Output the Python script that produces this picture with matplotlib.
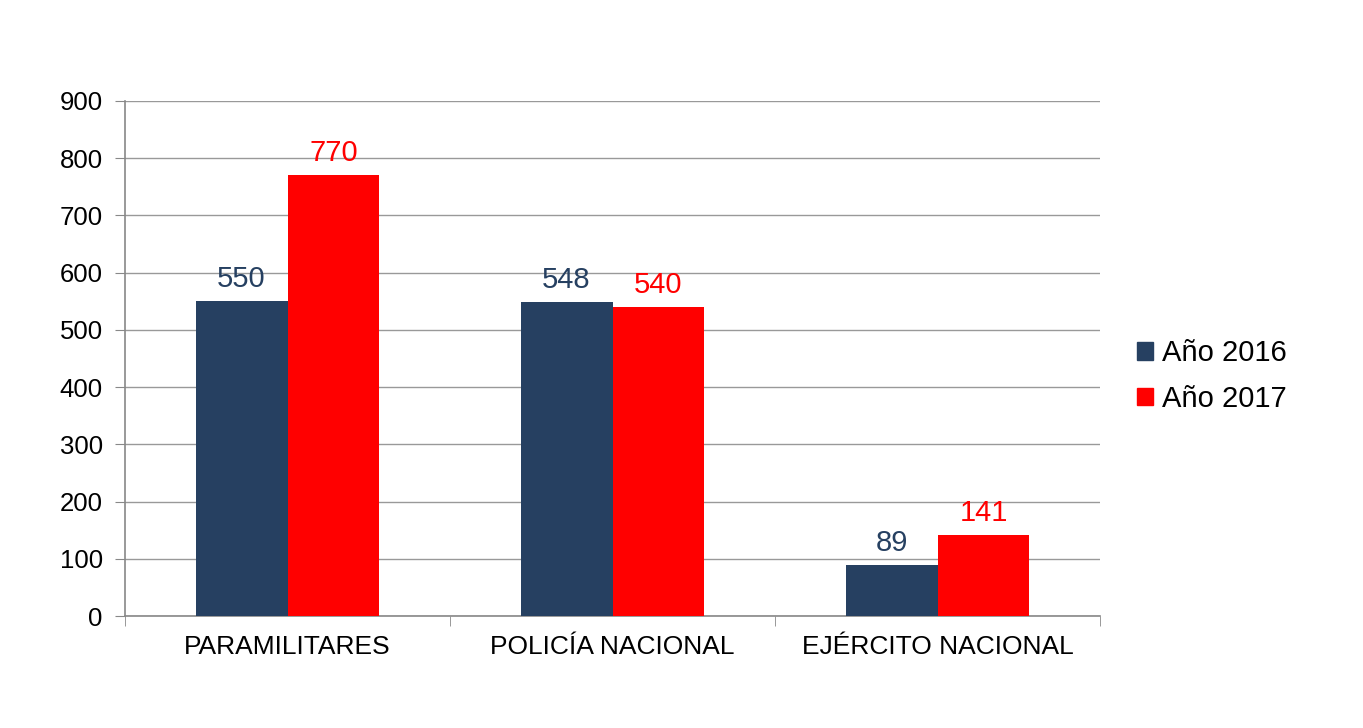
import matplotlib
matplotlib.use("Agg")
import matplotlib.pyplot as plt
import numpy as np
from matplotlib.patches import Patch

plt.rcParams['font.family'] = ['Liberation Sans', 'DejaVu Sans']

categories = ["PARAMILITARES", "POLICÍA NACIONAL", "EJÉRCITO NACIONAL"]
series_names = ["Año 2016", "Año 2017"]
values_2016 = [550, 548, 89]
values_2017 = [770, 540, 141]
colors = ["#264061", "#FF0000"]
yticks = [0, 100, 200, 300, 400, 500, 600, 700, 800, 900]

fig = plt.figure(figsize=(13.63, 7.28), dpi=100)
ax = fig.add_axes([125 / 1363, 1 - 616 / 728, 975 / 1363, 515 / 728])

x = np.arange(len(categories))
w = 0.283
bars1 = ax.bar(x - w / 2, values_2016, w, color=colors[0], zorder=3)
bars2 = ax.bar(x + w / 2, values_2017, w, color=colors[1], zorder=3)

for bars, c in [(bars1, colors[0]), (bars2, colors[1])]:
    for b in bars:
        ax.annotate(str(int(b.get_height())),
                    (b.get_x() + b.get_width() / 2, b.get_height()),
                    xytext=(0, 6), textcoords="offset points",
                    ha="center", va="bottom", fontsize=21, color=c)

ax.set_xlim(-0.5, len(categories) - 0.5)
ax.set_ylim(0, 900)
ax.set_yticks(yticks)
ax.tick_params(axis="y", labelsize=18.5, length=7, color="#888888", pad=9)
ax.set_xticks(x)
ax.set_xticklabels(categories)
ax.tick_params(axis="x", labelsize=19, length=0, pad=14)
# category separators on the x axis
ax.set_xticks(np.arange(-0.5, len(categories)), minor=True)
ax.tick_params(axis="x", which="minor", length=7, color="#888888")

ax.grid(axis="y", color="#999999", linewidth=1, zorder=0)
for s in ["top", "right"]:
    ax.spines[s].set_visible(False)
ax.spines["left"].set_color("#888888")
ax.spines["bottom"].set_color("#888888")
ax.spines["left"].set_linewidth(1.2)
ax.spines["bottom"].set_linewidth(1.2)

handles = [Patch(color=colors[0]), Patch(color=colors[1])]
fig.legend(handles, series_names, loc="center left",
           bbox_to_anchor=(1111 / 1363, 1 - 376 / 728), frameon=False,
           fontsize=21, handlelength=0.55, handleheight=0.55,
           handletextpad=0.3, labelspacing=0.6)

fig.savefig("out.png", dpi=100)
